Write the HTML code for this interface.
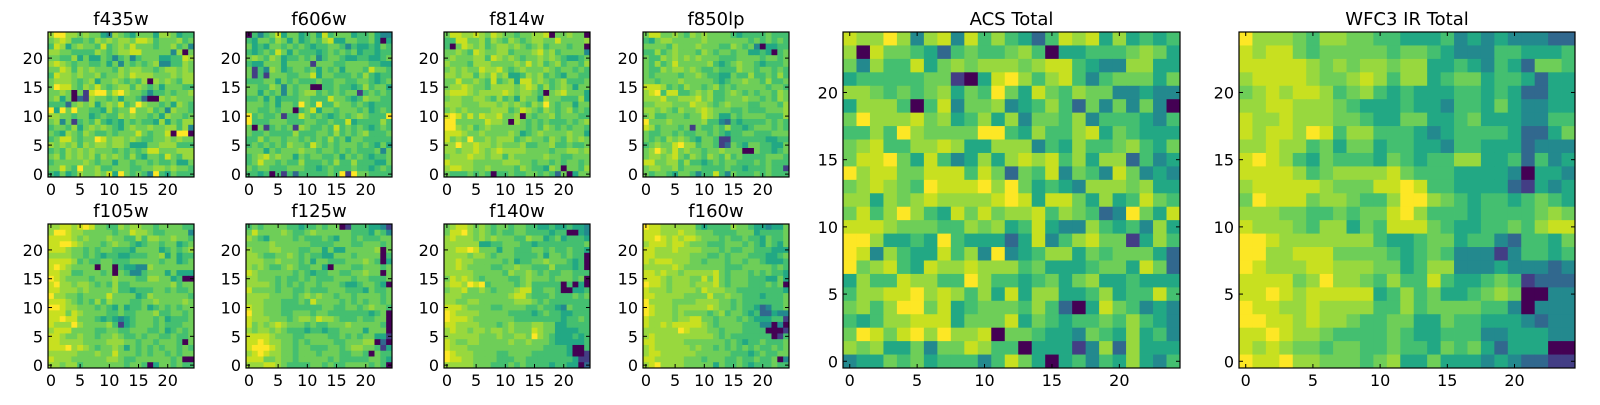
<!DOCTYPE html>
<html><head><meta charset="utf-8"><style>
body{margin:0;background:#fff;width:1600px;height:400px;overflow:hidden}
svg text{font-family:"DejaVu Sans","Liberation Sans",sans-serif;fill:#000}
</style></head><body>
<svg id="fig" width="1600" height="400" xmlns="http://www.w3.org/2000/svg"></svg>
<script>
// Data: each grid row string = one image row, top row (y=24) first; digits 0-9 = value level
const f435w = ["7997767664376546664776455","6787556576767768875666756","5874676658567686665667563","7766555576567788666663706","6655746446535635666445587","7876566556463656567335576","6687576766657677665677676","5877676675667687776667677","6777656746676565707676577","6988657686567757656466655","6676061899689766535565667","6746021766564665200767666","5552676746768569766564765","9496966554756696675637665","7766566456557676656476656","6736156575454656554746577","5665746767654676676677573","6547657655656668656680990","5688656698677676556676766","7676757677677644466777555","5657676766656565688666777","6757676757676575466586577","5666667656646656656556446","6686596675566655667767665","5464576676849656539546555"];
const f606w = ["0535684664564856664556433","5466576464565784466556404","6454665656545566535445465","5456586465554565656455455","6765764556563566544554456","5446664666616665566665544","6153764566564656466658665","6151666556684665556575455","5556646565556556655665456","6655763656600556554575664","6646563656775656566156565","5564645556655586654576655","6665646659659557665654555","6655656605684665666564565","9565561558656545656765559","9555666555665565584555575","6061565617655658565654565","6556555575556657565675556","5575665665656575646655555","5656565766586565666565464","6664656667665665656555636","5678676646566556465654556","5686656557555657557555446","6566555666554565556554565","5545051525555565919665555"];
const f814w = ["6887787687665667780667660","5588667576576567766866667","5068767567767656756665660","6676587667756667867566663","6766677587676566767654456","7666577766667686756756657","6767668778656766676566565","7767757686744576756546655","6686676585674886765675556","6778766577776787575676466","7888767777876776506786664","6776677657564766476655574","7776667776767657696566466","6767666677756876576567565","8986868778667065667566655","9966666877607656565556567","9976756766666656576565665","8887667666676456766667664","8676966767775676657657676","7797787767666755667556556","7767787678777766665667767","6777877677576666676655666","8777766666777665665656656","7887766766665765547606657","6555656505565566565260466"];
const f850lp = ["6886676576766665455556555","5467766666766666665656565","6666576667666557656304455","5575676665765665664454056","6557676767666555666656656","6575686666675456766545556","6557677676556555766566565","6566665667655446557556575","6656667666665456676657556","8887565766567565666665665","7895885567675567656566576","7778667778675566676656576","6677766687765676665566657","7767657667876665565556667","6755666566876446566665557","9666766666755325455556565","8756665616556575545666565","6556656556656545566555666","6565767654665115555554455","5676689775665126546655446","6797686766566766600655456","6776786576576575655556665","8866775755456566555656555","6776675666555565545556551","6566546653558536555656555"];
const f105w = ["7788789866557677665666655","7998776666656687765566663","8888767666766557577667665","8899876665676654566566456","8887665656655546666456567","7777665654554455566746455","8888756556655566666566456","8987666606605443376666666","8877556665606533566646444","9876666566676665577664500","8977677656575566666667566","8877767666675545556656556","9776656666866664576666665","8887656575766655667666676","9987766656546455645656566","8886876666556556667556656","8898866654543456665645556","8777976666751456665655566","7888666655665566655645656","8876676656676556566556556","8877776666777665665666506","8889787656676465656566565","7777766676686665656656566","8777666666776556666665600","7767756666666566504665655"];
const f125w = ["5656666554556566015554431","6866667655676666665554653","7654666656555654665655566","6666766666655556665566656","7666776665566464466666706","7765566765655446665666605","7776676665646655566676504","7676556765566406665566656","8766666656545566556676606","7766656556565556665665556","7777656565665666544566540","8666656655655566655546556","7777666656767665665666656","7776665556586666565656656","8776665555555665566567665","9776665566656655555554560","8777666567768776555655660","8676787666565566676666650","7677676555455455666646660","8888766655666655656566441","8898776656566665566677020","8999876656655566567766514","7898776656665666556650655","8886676656666656555556654","7778876555566565566665650"];
const f140w = ["6788767656656655445445443","6889767656556655554550043","7877767676665576645645554","7777774455666554555555556","7788986664665556656556554","7777677656665555646656550","7787766666564556676665450","7787666655667665557555450","7777766666576676565566555","6878765666655676665666560","7887989566665675555505040","6778667656667885566500445","7776666666678865556555656","7766776666667776565555555","8887666655666655655436555","9877776666655554565544555","9888766666665555555545565","8877776665676667766445555","7877677677676668766444455","7777776667667769765444545","8766776666676676665444445","8777666666666666655554005","9877766665566665555554001","9887766665556655555555411","7777766655565655554554402"];
const f160w = ["9887777775455557665443446","8887778776665555666455556","8898787887666565565546556","7888788766655566656546546","8877787777666565566555444","8877777766655656665554456","8788877766566656656654445","7777787666666655566666565","8878776777778656665656554","8887677766868656665554464","9887677767778656665556560","8777677776877766555555554","8877777666686676655545556","9777766667777665655555556","9877767777787665655423556","9877767666656756654522433","8777767788665666565444551","8778788888765666655533030","7777779877766566655550001","7877777777776565555555015","8877777666666656545565556","7877777767665656565655656","7887777776666665554565566","8877777666566655655655603","7897777666664655654555655"];
const acsTotal = ["8779737838575425878474545","7086654256556750445556764","6375584676777678854337744","4555556610489757853566646","7765656746596486576633433","4777505836673457526363630","6977786745747366573555435","5575976666995475578465444","6785577874477735475567546","6889648534747878574772534","9788668885862658365386343","6787659888979645437776744","7747678777789848864745865","6857975486867785765239648","8887666557674584337545374","9974454954442483578661475","9837544857393457746566642","9678548778777564445664862","4755877559755456467445444","5778897875748477445745585","6757996845666575204865343","5457788846668465455657543","6986897977806654436547453","7674463668755044413727444","3446564555358640453547435"];
const wfc3Total = ["9777657766554445343433322","8788656666656654333554445","8888876767767744543542665","7888876678757745664554244","6787887567545444554542244","7788777654445443554643344","8778777665446644564443355","8788798577555434555542246","7787756466455443554442333","8987546555465455774452534","8888756777786555444430443","7888887666889855444421434","6988867765579976545545654","7776655656689755545555676","8777657746588865445565788","9987777777544566455325546","9977888666654565333135545","9877788777664577333433323","8888679776575585445651222","8898788888457564456760033","9887787777557566665530333","9988787765566446554443233","8898776555565445553344433","8787665665565546564244400","9889776665674464443432211"];

const levels = ["#440154","#433e85","#31688e","#23898e","#22a884","#44bf70","#6ece58","#98d83e","#c8e020","#fde725"];
const tickVals = [0,5,10,15,20];

const panels = [
 {name:"f435w",data:f435w,x:48,y:32,w:146,h:145,fs:16},
 {name:"f606w",data:f606w,x:246,y:32,w:146,h:145,fs:16},
 {name:"f814w",data:f814w,x:444,y:32,w:146,h:145,fs:16},
 {name:"f850lp",data:f850lp,x:643,y:32,w:146,h:145,fs:16},
 {name:"f105w",data:f105w,x:48,y:224,w:146,h:144,fs:16},
 {name:"f125w",data:f125w,x:246,y:224,w:146,h:144,fs:16},
 {name:"f140w",data:f140w,x:444,y:224,w:146,h:144,fs:16},
 {name:"f160w",data:f160w,x:643,y:224,w:146,h:144,fs:16},
 {name:"ACS Total",data:acsTotal,x:843,y:32,w:337,h:336,fs:16},
 {name:"WFC3 IR Total",data:wfc3Total,x:1239,y:32,w:336,h:336,fs:16}
];
const NS="http://www.w3.org/2000/svg";
const svg=document.getElementById('fig');
function mk(tag,attrs,parent){const e=document.createElementNS(NS,tag);for(const k in attrs)e.setAttribute(k,attrs[k]);parent.appendChild(e);return e;}
panels.forEach(p=>{
  const slug=p.name.toLowerCase().replace(/\s+/g,'-');
  const g=mk('g',{},svg);
  
  
  const n=p.data.length, m=p.data[0].length;
  const sx=v=>p.x+(v+0.5)*p.w/m;
  const sy=v=>p.y+p.h-(v+0.5)*p.h/n;
  const cw=p.w/m, ch=p.h/n;
  p.data.forEach((row,ri)=>{
    const yv=n-1-ri;
    for(let ci=0;ci<row.length;ci++){
      const r=mk('rect',{x:(sx(ci)-cw/2).toFixed(2),y:(sy(yv)-ch/2).toFixed(2),width:(cw+0.4).toFixed(2),height:(ch+0.4).toFixed(2),fill:levels[+row[ci]]},g);
      
      
    }
  });
  const fr=mk('rect',{x:p.x,y:p.y,width:p.w,height:p.h,fill:'none',stroke:'#000','stroke-width':1.2},g);
  
  
  tickVals.forEach(t=>{
    const X=sx(t),Y=sy(t);
    mk('line',{x1:X,x2:X,y1:p.y+p.h,y2:p.y+p.h-4,stroke:'#000'},g);
    mk('line',{x1:X,x2:X,y1:p.y,y2:p.y+4,stroke:'#000'},g);
    mk('line',{x1:p.x,x2:p.x+4,y1:Y,y2:Y,stroke:'#000'},g);
    mk('line',{x1:p.x+p.w,x2:p.x+p.w-4,y1:Y,y2:Y,stroke:'#000'},g);
    const xl=mk('text',{x:X,y:p.y+p.h+18,'font-size':p.fs,'text-anchor':'middle'},g);
    xl.textContent=t;
    
    
    const yl=mk('text',{x:p.x-5,y:Y+6,'font-size':p.fs,'text-anchor':'end'},g);
    yl.textContent=t;
    
    
  });
  const tt=mk('text',{x:p.x+p.w/2,y:p.y-7,'font-size':18,'text-anchor':'middle'},g);
  tt.textContent=p.name;
  
  
});
</script>
</body></html>
